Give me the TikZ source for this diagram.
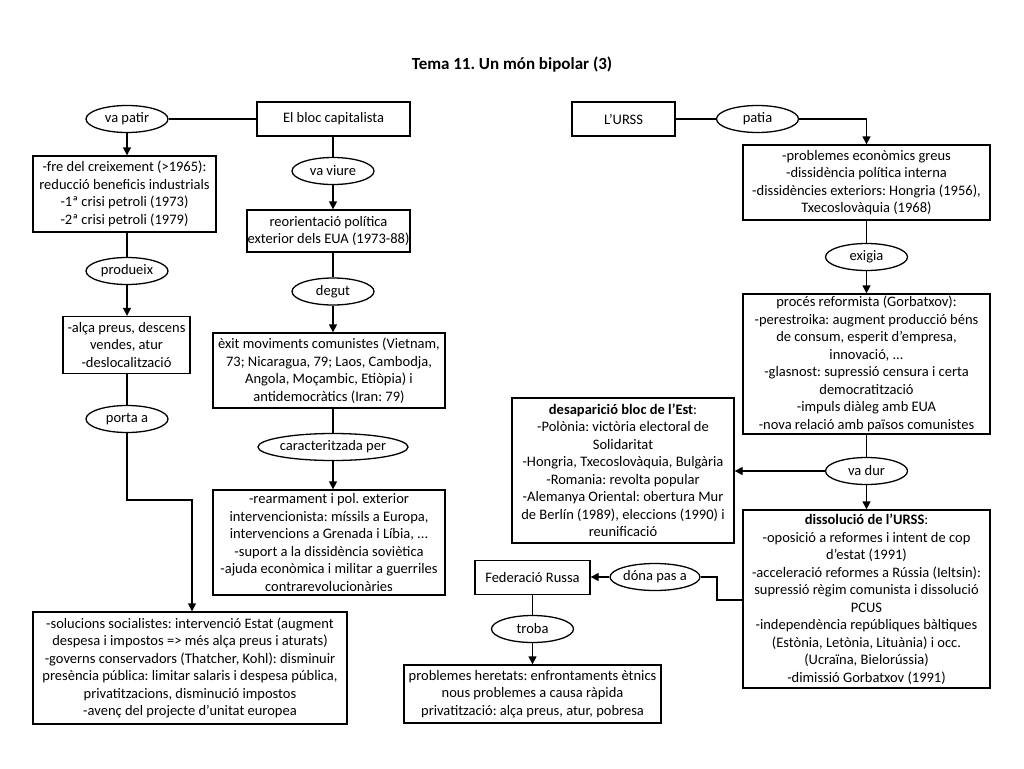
\documentclass[tikz,border=0pt]{standalone}
\usepackage{fontspec}
\setmainfont{Carlito}
\usetikzlibrary{shapes.geometric,arrows.meta}
\newcommand\myfs{\fontsize{14.5}{17.5}\selectfont}
\frenchspacing
\tikzset{
  box/.style={draw, line width=1.3pt, align=center, inner sep=0pt, font=\myfs},
  oval/.style={draw, ellipse, line width=1.3pt, inner sep=0pt, minimum width=82pt, minimum height=27pt, font=\myfs},
  ln/.style={line width=1.3pt},
  arr/.style={line width=1.3pt, -{Triangle[length=8pt,width=8pt]}}
}
\begin{document}
\begin{tikzpicture}[x=1pt,y=-1pt]
\fill[white] (0,0) rectangle (1024,768);
\useasboundingbox (0,0) rectangle (1024,768);
\node[font=\fontsize{17}{20}\selectfont\bfseries] (title) at (512,65) {Tema 11. Un món bipolar (3)};

% left / middle
\node[box, minimum width=153pt, minimum height=34pt] (capbox) at (333.5,119) {El bloc capitalista};
\node[oval] (vapatir) at (127,119) {va patir};
\node[box, minimum width=183pt, minimum height=76pt] (box1) at (124.5,194) {-fre del creixement (>1965):\\reducció beneficis industrials\\-1ª crisi petroli (1973)\\-2ª crisi petroli (1979)};
\node[oval] (produeix) at (127,271) {produeix};
\node[box, minimum width=127pt, minimum height=57pt] (box2) at (126.5,345) {-alça preus, descens\\vendes, atur\\-deslocalització};
\node[oval] (portaa) at (127,419) {porta a};
\node[box, minimum width=314pt, minimum height=112pt] (box3) at (190,668) {-solucions socialistes: intervenció Estat (augment\\despesa i impostos => més alça preus i aturats)\\-governs conservadors (Thatcher, Kohl): disminuir\\presència pública: limitar salaris i despesa pública,\\privatitzacions, disminució impostos\\-avenç del projecte d’unitat europea};

\node[oval] (vaviure) at (333,171) {va viure};
\node[box, minimum width=163pt, minimum height=42pt] (reorient) at (328.5,231) {reorientació política\\exterior dels EUA (1973-88)};
\node[oval] (degut) at (333,291.5) {degut};
\node[box, minimum width=232pt, minimum height=75pt] (exit) at (329,370.5) {èxit moviments comunistes (Vietnam,\\73; Nicaragua, 79; Laos, Cambodja,\\Angola, Moçambic, Etiòpia) i\\antidemocràtics (Iran: 79)};
\node[oval, minimum width=147pt] (caract) at (333,447) {caracteritzada per};
\node[box, minimum width=232pt, minimum height=105pt] (rearm) at (329,542.5) {-rearmament i pol. exterior\\intervencionista: míssils a Europa,\\intervencions a Grenada i Líbia, ...\\-suport a la dissidència soviètica\\-ajuda econòmica i militar a guerriles\\contrarevolucionàries};

% right
\node[box, minimum width=103pt, minimum height=34pt] (urss) at (623.5,119) {L’URSS};
\node[oval] (patia) at (757.5,119) {patia};
\node[box, minimum width=247pt, minimum height=75pt] (probl) at (866.5,182.5) {-problemes econòmics greus\\-dissidència política interna\\-dissidències exteriors: Hongria (1956),\\Txecoslovàquia (1968)};
\node[oval] (exigia) at (866.5,257) {exigia};
\node[box, minimum width=247pt, minimum height=140pt] (proces) at (866.5,364) {procés reformista (Gorbatxov):\\-perestroika: augment producció béns\\de consum, esperit d’empresa,\\innovació, ...\\-glasnost: supressió censura i certa\\democratització\\-impuls diàleg amb EUA\\-nova relació amb països comunistes};
\node[oval] (vadur) at (866.5,471) {va dur};
\node[box, minimum width=222pt, minimum height=145pt] (desap) at (623,470.5) {\textbf{desaparició bloc de l’Est}:\\-Polònia: victòria electoral de\\Solidaritat\\-Hongria, Txecoslovàquia, Bulgària\\-Romania: revolta popular\\-Alemanya Oriental: obertura Mur\\de Berlín (1989), eleccions (1990) i\\reunificació};
\node[box, minimum width=247pt, minimum height=178pt] (dissol) at (866.5,599) {\textbf{dissolució de l’URSS}:\\-oposició a reformes i intent de cop\\d’estat (1991)\\-acceleració reformes a Rússia (Ieltsin):\\supressió règim comunista i dissolució\\PCUS\\-independència repúbliques bàltiques\\(Estònia, Letònia, Lituània) i occ.\\(Ucraïna, Bielorússia)\\-dimissió Gorbatxov (1991)};
\node[oval] (donapas) at (655,577) {dóna pas a};
\node[box, minimum width=115pt, minimum height=34pt] (fed) at (532.5,577.5) {Federació Russa};
\node[oval] (troba) at (532.5,629) {troba};
\node[box, minimum width=257pt, minimum height=58pt] (heretats) at (532.5,694) {problemes heretats: enfrontaments ètnics\\nous problemes a causa ràpida\\privatització: alça preus, atur, pobresa};

% connectors left
\draw[ln] (capbox.west) -- (vapatir.east);
\draw[arr] (vapatir.south) -- (vapatir.south |- box1.north);
\draw[ln] (produeix.north |- box1.south) -- (produeix.north);
\draw[arr] (produeix.south) -- (produeix.south |- box2.north);
\draw[ln] (portaa.north |- box2.south) -- (portaa.north);
\coordinate (bendA) at (127,500);
\coordinate (bendB) at (192,500);
\draw[arr] (portaa.south) -- (bendA) -- (bendB) -- (bendB |- box3.north);
% middle
\draw[ln] (vaviure.north |- capbox.south) -- (vaviure.north);
\draw[arr] (vaviure.south) -- (vaviure.south |- reorient.north);
\draw[ln] (degut.north |- reorient.south) -- (degut.north);
\draw[arr] (degut.south) -- (degut.south |- exit.north);
\draw[ln] (caract.north |- exit.south) -- (caract.north);
\draw[arr] (caract.south) -- (caract.south |- rearm.north);
% right
\draw[ln] (urss.east) -- (patia.west);
\draw[arr] (patia.east) -| (probl.north);
\draw[ln] (probl.south) -- (exigia.north);
\draw[arr] (exigia.south) -- (proces.north);
\draw[ln] (proces.south) -- (vadur.north);
\draw[arr] (vadur.west) -- (vadur.west -| desap.east);
\draw[arr] (vadur.south) -- (dissol.north);
\coordinate (bendC) at (717,600);
\draw[ln] (donapas.east) -| (bendC) -- (bendC -| dissol.west);
\draw[arr] (donapas.west) -- (donapas.west -| fed.east);
\draw[ln] (troba.north |- fed.south) -- (troba.north);
\draw[arr] (troba.south) -- (troba.south |- heretats.north);
\end{tikzpicture}
\end{document}
